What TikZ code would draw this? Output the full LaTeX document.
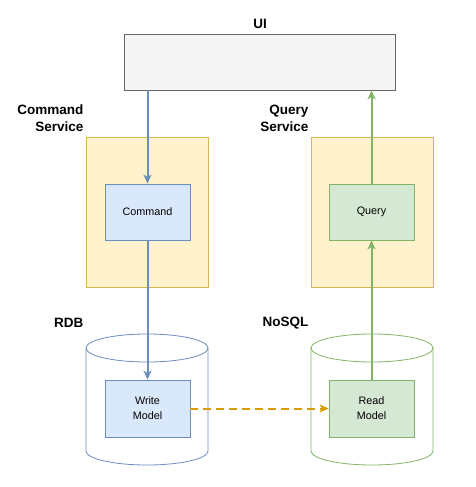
\documentclass[tikz,border=0pt]{standalone}
\usepackage{fontspec}
\setmainfont{Liberation Sans}
\usepackage{xcolor}
\usetikzlibrary{positioning,calc,arrows.meta}

\definecolor{uifill}{HTML}{F5F5F5}
\definecolor{uiline}{HTML}{666666}
\definecolor{svcfill}{HTML}{FFF2CC}
\definecolor{svcline}{HTML}{D6B656}
\definecolor{cmdfill}{HTML}{DAE8FC}
\definecolor{cmdline}{HTML}{6C8EBF}
\definecolor{qryfill}{HTML}{D5E8D4}
\definecolor{qryline}{HTML}{82B366}
\definecolor{syncline}{HTML}{D79B00}

\tikzset{
  box/.style={rectangle, inner sep=0pt, line width=0.8pt, font=\fontsize{10.8}{15}\selectfont, align=center},
  svcbox/.style={box, fill=svcfill, draw=svcline, minimum width=122, minimum height=150},
  cmdbox/.style={box, fill=cmdfill, draw=cmdline, minimum width=85, minimum height=56},
  qrybox/.style={box, fill=qryfill, draw=qryline, minimum width=85, minimum height=56},
  caption/.style={font=\bfseries\fontsize{13.5}{17}\selectfont, align=right, anchor=east},
  flow/.style={line width=2pt, -{Stealth[length=9pt,width=8pt,inset=2.5pt]}}
}

\begin{document}
\begin{tikzpicture}[x=1pt,y=-1pt]
    \useasboundingbox (0,0) rectangle (476,487);

    % UI
    \node[box, fill=uifill, draw=uiline, minimum width=271, minimum height=56] (ui) at (259.5,62) {};
    \node[font=\bfseries\fontsize{13.5}{17}\selectfont] (uilabel) at (260,24) {UI};

    % Databases
    \draw[cmdline, line width=0.8pt, fill=white] (86,348) -- (86,451) arc (180:0:61 and 14) -- (208,348) arc (0:-180:61 and 14) -- cycle;
    \draw[cmdline, line width=0.8pt] (86,348) arc (180:0:61 and 14);
    \draw[qryline, line width=0.8pt, fill=white] (311,348) -- (311,451) arc (180:0:61 and 14) -- (433,348) arc (0:-180:61 and 14) -- cycle;
    \draw[qryline, line width=0.8pt] (311,348) arc (180:0:61 and 14);
    \node[caption] (rdb) at (87,323) {RDB};
    \node[caption] (nosql) at (312,323) {NoSQL};

    % Services
    \node[svcbox] (cmdsvc) at (147,212) {};
    \node[svcbox] (qrysvc) at (372,212) {};
    \node[caption] (cmdsvclabel) at (87,118) {Command\\Service};
    \node[caption] (qrysvclabel) at (312,118) {Query\\Service};

    % Models
    \node[cmdbox] (cmd) at (147.5,212) {Command};
    \node[qrybox] (qry) at (371.5,212) {Query};
    \node[cmdbox, minimum height=57] (write) at (147.5,408.5) {Write\\Model};
    \node[qrybox, minimum height=57] (read) at (371.5,408.5) {Read\\Model};

    % Flows
    \draw[flow, cmdline] (cmd.north |- ui.south) -- (cmd.north);
    \draw[flow, cmdline] (cmd.south) -- (write.north);
    \draw[flow, qryline] (read.north) -- (qry.south);
    \draw[flow, qryline] (qry.north) -- (qry.north |- ui.south);
    \draw[flow, syncline, dash pattern=on 8pt off 5pt] (write.east) -- (read.west);
\end{tikzpicture}
\end{document}
